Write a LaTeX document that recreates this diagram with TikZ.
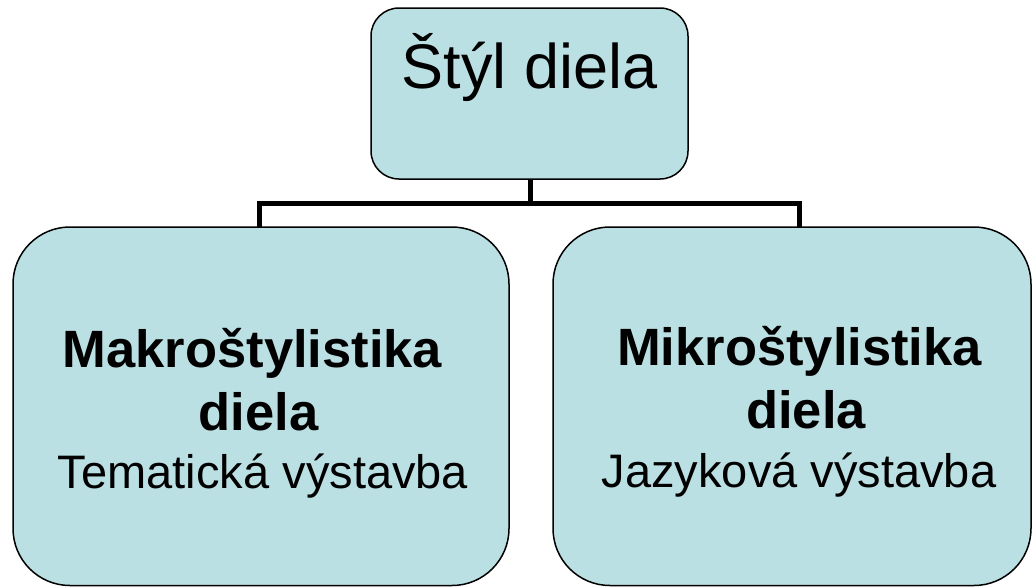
\documentclass[tikz,border=0pt]{standalone}
\usepackage{fontspec}
\setmainfont{Liberation Sans}
\usetikzlibrary{calc}
\definecolor{boxfill}{RGB}{187,224,227}
\tikzset{
  box/.style={draw=black, line width=1.5pt, fill=boxfill, inner sep=0pt, outer sep=0pt},
  conn/.style={draw=black, line width=5pt, line cap=butt, line join=miter},
  txt/.style={anchor=base, inner sep=0pt, text=black},
  bigtxt/.style={txt, font=\fontsize{63}{70}\selectfont},
  headtxt/.style={txt, font=\fontsize{52.5}{60}\selectfont\bfseries},
  subtxt/.style={txt, font=\fontsize{47}{54}\selectfont}
}
\begin{document}
\begin{tikzpicture}[x=1pt, y=-1pt]
  \useasboundingbox (0,0) rectangle (1034,587);

  % boxes
  \node[box, rounded corners=28pt, minimum width=317pt, minimum height=171pt] (top) at (529.5,93.5) {};
  \node[box, rounded corners=57pt, minimum width=496pt, minimum height=358.5pt] (left) at (261,406.25) {};
  \node[box, rounded corners=57pt, minimum width=478pt, minimum height=358.5pt] (right) at (792,406.25) {};

  % tree connector
  \coordinate (bus) at (530,203.5);
  \draw[conn] (top.south -| bus) -- (bus) -| ($(left.north)+(-1.5,0)$);
  \draw[conn] (bus) -| ($(right.north)+(7,0)$);

  % texts
  \node[bigtxt] (title) at (529.5,88) {Štýl diela};

  \node[headtxt] (lhead) at (252.5,367) {Makroštylistika};
  \node[headtxt] (lhead2) at (258.5,430) {diela};
  \node[subtxt] (lsub) at (263,488) {Tematická výstavba};

  \node[headtxt] (rhead) at (799.5,365) {Mikroštylistika};
  \node[headtxt] (rhead2) at (806,428) {diela};
  \node[subtxt] (rsub) at (799,487) {Jazyková výstavba};
\end{tikzpicture}
\end{document}
